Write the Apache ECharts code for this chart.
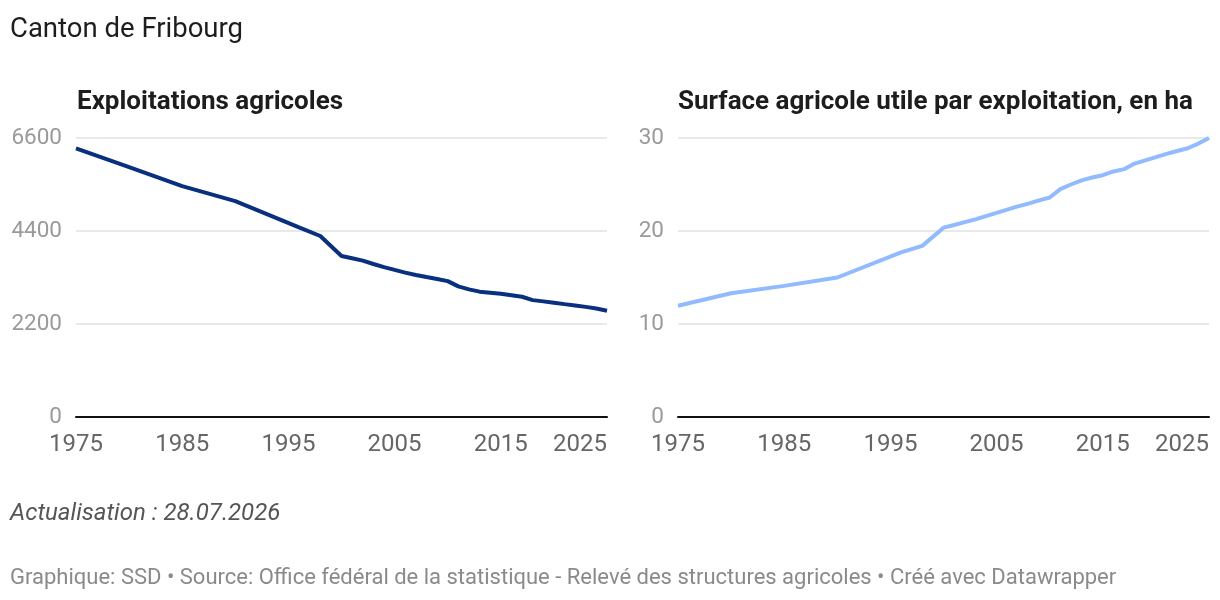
<!DOCTYPE html>
<html>
<head>
<meta charset="utf-8">
<script src="https://cdn.jsdelivr.net/npm/echarts@6/dist/echarts.min.js"></script>
<style>
  html, body { margin: 0; padding: 0; background: #fff; }
  #main { width: 1220px; height: 600px; }
</style>
</head>
<body>
<div id="main"></div>
<script>
// années des relevés
var years = [1975, 1980, 1985, 1990, 1996, 1998, 2000, 2001, 2002, 2003, 2004, 2005, 2006, 2007, 2008, 2009,
	2010, 2011, 2012, 2013, 2014, 2015, 2016, 2017, 2018, 2019, 2020, 2021, 2022, 2023, 2024, 2025];
// nombre d'exploitations agricoles
var exploitations = [6356, 5910, 5461, 5107, 4487, 4282, 3810, 3755, 3700, 3620, 3545, 3480, 3415, 3360, 3310, 3265,
	3215, 3090, 3020, 2965, 2940, 2915, 2880, 2845, 2765, 2735, 2705, 2670, 2640, 2605, 2565, 2515];
// surface agricole utile par exploitation (ha)
var surface = [11.96, 13.3, 14.1, 15.0, 17.7, 18.4, 20.36, 20.65, 20.95, 21.25, 21.6, 21.95, 22.3, 22.65, 22.95, 23.3,
	23.6, 24.5, 25.0, 25.45, 25.75, 26.0, 26.4, 26.65, 27.25, 27.6, 27.95, 28.3, 28.6, 28.9, 29.4, 30.0];
var xTicks = [1975, 2025, 10];
var leftTicks = [0, 6600, 2200];
var rightTicks = [0, 30, 10];

var myChart = echarts.init(document.getElementById('main'));

function pairs(vals) {
	var out = [];
	for (var i = 0; i < years.length; i++) {
		out.push([years[i], vals[i]]);
	}
	return out;
}

function xAxisFor(idx) {
	return {
		type: 'value',
		gridIndex: idx,
		min: xTicks[0],
		max: xTicks[1],
		interval: xTicks[2],
		axisLine: { show: true, lineStyle: { color: '#111', width: 2 } },
		axisTick: { show: false },
		splitLine: { show: false },
		axisLabel: {
			color: '#666',
			fontSize: 24,
			fontFamily: 'Roboto',
			margin: 16,
			alignMaxLabel: 'right',
			formatter: function(v) { return String(v); }
		}
	};
}

function yAxisFor(idx, t) {
	return {
		type: 'value',
		gridIndex: idx,
		min: t[0],
		max: t[1],
		interval: t[2],
		axisLine: { show: false },
		axisTick: { show: false },
		splitLine: { show: true, lineStyle: { color: '#e2e2e2', width: 1.5 } },
		axisLabel: {
			color: '#9a9a9a',
			fontSize: 22.5,
			fontFamily: 'Roboto',
			margin: 14,
			formatter: function(v) { return String(v); }
		}
	};
}

function textTitle(txt, left, top, style) {
	return {
		text: txt,
		left: left,
		top: top,
		padding: 0,
		textStyle: Object.assign({ fontFamily: 'Roboto', fontWeight: 'normal', color: '#1d1d1d' }, style)
	};
}

var option = {
	animation: false,
	backgroundColor: '#fff',
	textStyle: { fontFamily: 'Roboto' },
	title: [
		textTitle('Canton de Fribourg', 10, 16, { fontSize: 27.5 }),
		textTitle('Exploitations agricoles', 77, 89, { fontSize: 26, fontWeight: 'bold' }),
		textTitle('Surface agricole utile par exploitation, en ha', 678, 89, { fontSize: 26, fontWeight: 'bold' }),
		textTitle('Actualisation : 28.07.2026', 10, 502, { fontSize: 24, fontStyle: 'italic', color: '#555' }),
		textTitle('Graphique: SSD • Source: Office fédéral de la statistique - Relevé des structures agricoles • Créé avec Datawrapper',
			10, 567, { fontSize: 22, color: '#8a8a8a' })
	],
	grid: [
		{ left: 76, top: 138, width: 531, height: 279 },
		{ left: 678, top: 138, width: 531, height: 279 }
	],
	xAxis: [xAxisFor(0), xAxisFor(1)],
	yAxis: [yAxisFor(0, leftTicks), yAxisFor(1, rightTicks)],
	series: [{
			name: 'Exploitations agricoles',
			type: 'line',
			xAxisIndex: 0,
			yAxisIndex: 0,
			data: pairs(exploitations),
			showSymbol: false,
			clip: false,
			lineStyle: { color: '#08307f', width: 4 }
		},
		{
			name: 'Surface agricole utile par exploitation, en ha',
			type: 'line',
			xAxisIndex: 1,
			yAxisIndex: 1,
			data: pairs(surface),
			showSymbol: false,
			clip: false,
			lineStyle: { color: '#92baff', width: 4 }
		}
	]
};
myChart.setOption(option);
</script>
</body>
</html>
